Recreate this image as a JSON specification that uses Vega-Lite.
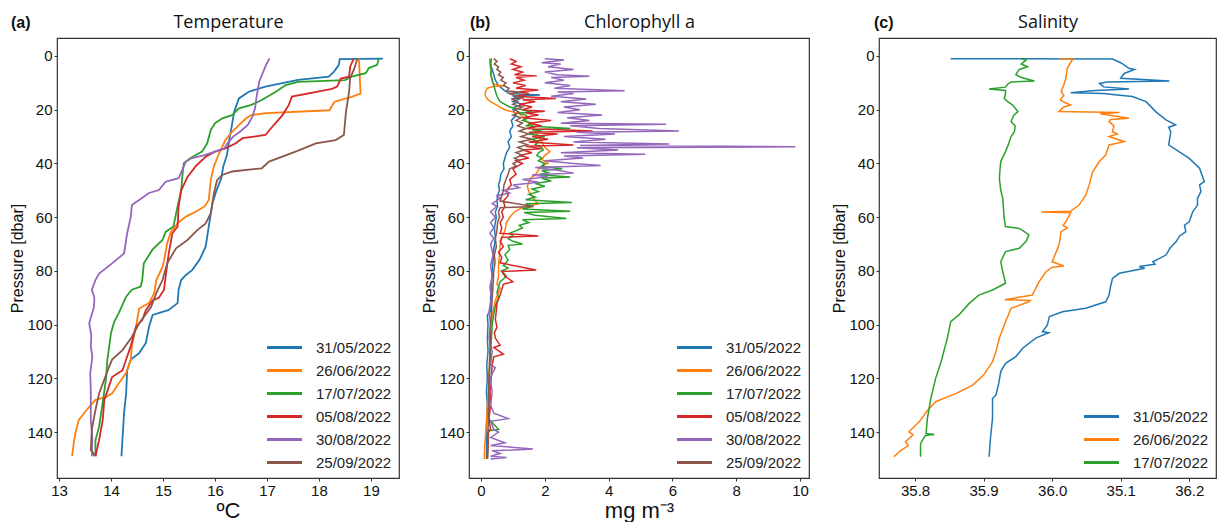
{
"$schema": "https://vega.github.io/schema/vega-lite/v6.json",
"padding": {"left": 9, "top": 12, "right": 0, "bottom": 0},
"autosize": {"type": "pad"},
"config": {
  "view": {"stroke": "#333", "strokeWidth": 1.2},
  "font": "Liberation Sans",
  "axis": {"labelFontSize": 15, "labelColor": "#111", "tickColor": "#333", "tickSize": 3, "domain": false, "grid": false, "titleFontWeight": "normal", "titleFontSize": 16, "titleColor": "#111", "labelPadding": 2},
  "title": {"fontSize": 16, "fontWeight": "bold", "anchor": "start", "frame": "group", "color": "#111", "font": "Liberation Sans"},
  "legend": {"orient": "bottom-right", "title": null, "symbolType": "M-2,0H2", "symbolSize": 306, "symbolStrokeWidth": 3, "labelFontSize": 15, "labelFont": "Liberation Sans", "labelColor": "#222", "rowPadding": 4, "labelOffset": 21, "offset": 7, "padding": 0}
},
"datasets": {
"temp": [
{"d":"31/05/2022","p":1.0,"v":19.23},{"d":"31/05/2022","p":1.2,"v":18.4},{"d":"31/05/2022","p":3.4,"v":18.38},{"d":"31/05/2022","p":5.8,"v":18.29},{"d":"31/05/2022","p":7.7,"v":18.19},{"d":"31/05/2022","p":8.9,"v":17.6},{"d":"31/05/2022","p":11.4,"v":16.97},{"d":"31/05/2022","p":13.3,"v":16.65},{"d":"31/05/2022","p":15.8,"v":16.46},{"d":"31/05/2022","p":20.7,"v":16.37},{"d":"31/05/2022","p":26.4,"v":16.32},{"d":"31/05/2022","p":30.6,"v":16.28},{"d":"31/05/2022","p":36.9,"v":16.23},{"d":"31/05/2022","p":41,"v":16.16},{"d":"31/05/2022","p":45.5,"v":16.12},{"d":"31/05/2022","p":50.5,"v":16.02},{"d":"31/05/2022","p":54.8,"v":15.95},{"d":"31/05/2022","p":63.5,"v":15.88},{"d":"31/05/2022","p":71,"v":15.82},{"d":"31/05/2022","p":76,"v":15.7},{"d":"31/05/2022","p":79.7,"v":15.56},{"d":"31/05/2022","p":81.5,"v":15.44},{"d":"31/05/2022","p":83.4,"v":15.35},{"d":"31/05/2022","p":87,"v":15.3},{"d":"31/05/2022","p":92,"v":15.28},{"d":"31/05/2022","p":94.6,"v":15.1},{"d":"31/05/2022","p":96.4,"v":14.8},{"d":"31/05/2022","p":100.8,"v":14.73},{"d":"31/05/2022","p":106.8,"v":14.67},{"d":"31/05/2022","p":110.6,"v":14.54},{"d":"31/05/2022","p":113,"v":14.38},{"d":"31/05/2022","p":117,"v":14.31},{"d":"31/05/2022","p":125.6,"v":14.29},{"d":"31/05/2022","p":133,"v":14.25},{"d":"31/05/2022","p":149,"v":14.2},
{"d":"26/06/2022","p":1,"v":18.77},{"d":"26/06/2022","p":14,"v":18.8},{"d":"26/06/2022","p":15.2,"v":18.63},{"d":"26/06/2022","p":17,"v":18.3},{"d":"26/06/2022","p":20.2,"v":18.2},{"d":"26/06/2022","p":21.3,"v":16.98},{"d":"26/06/2022","p":22,"v":16.7},{"d":"26/06/2022","p":23.2,"v":16.6},{"d":"26/06/2022","p":25.7,"v":16.46},{"d":"26/06/2022","p":28.2,"v":16.33},{"d":"26/06/2022","p":31.3,"v":16.2},{"d":"26/06/2022","p":36.2,"v":16.08},{"d":"26/06/2022","p":41,"v":15.98},{"d":"26/06/2022","p":46,"v":15.92},{"d":"26/06/2022","p":53.6,"v":15.88},{"d":"26/06/2022","p":56,"v":15.8},{"d":"26/06/2022","p":58,"v":15.63},{"d":"26/06/2022","p":59.8,"v":15.44},{"d":"26/06/2022","p":62.3,"v":15.28},{"d":"26/06/2022","p":65.5,"v":15.15},{"d":"26/06/2022","p":69.7,"v":15.08},{"d":"26/06/2022","p":76,"v":15.02},{"d":"26/06/2022","p":78.5,"v":14.99},{"d":"26/06/2022","p":83.4,"v":14.87},{"d":"26/06/2022","p":88.3,"v":14.83},{"d":"26/06/2022","p":92,"v":14.73},{"d":"26/06/2022","p":94,"v":14.54},{"d":"26/06/2022","p":100.8,"v":14.48},{"d":"26/06/2022","p":108,"v":14.4},{"d":"26/06/2022","p":113,"v":14.38},{"d":"26/06/2022","p":118,"v":14.29},{"d":"26/06/2022","p":121.8,"v":14.15},{"d":"26/06/2022","p":125.6,"v":14.02},{"d":"26/06/2022","p":127,"v":13.9},{"d":"26/06/2022","p":128,"v":13.7},{"d":"26/06/2022","p":130.6,"v":13.58},{"d":"26/06/2022","p":135.5,"v":13.38},{"d":"26/06/2022","p":139,"v":13.33},{"d":"26/06/2022","p":143,"v":13.29},{"d":"26/06/2022","p":149,"v":13.25},
{"d":"17/07/2022","p":1,"v":19.15},{"d":"17/07/2022","p":3.3,"v":19.12},{"d":"17/07/2022","p":4.5,"v":18.96},{"d":"17/07/2022","p":6.4,"v":18.9},{"d":"17/07/2022","p":7.7,"v":18.63},{"d":"17/07/2022","p":9,"v":18.5},{"d":"17/07/2022","p":9.6,"v":17.6},{"d":"17/07/2022","p":10.8,"v":17.36},{"d":"17/07/2022","p":13.3,"v":17.17},{"d":"17/07/2022","p":16.4,"v":16.9},{"d":"17/07/2022","p":18.2,"v":16.7},{"d":"17/07/2022","p":19.5,"v":16.46},{"d":"17/07/2022","p":22,"v":16.33},{"d":"17/07/2022","p":23.2,"v":16.14},{"d":"17/07/2022","p":25,"v":16.0},{"d":"17/07/2022","p":27.5,"v":15.92},{"d":"17/07/2022","p":32.5,"v":15.85},{"d":"17/07/2022","p":35.6,"v":15.75},{"d":"17/07/2022","p":38,"v":15.53},{"d":"17/07/2022","p":39.9,"v":15.4},{"d":"17/07/2022","p":45,"v":15.37},{"d":"17/07/2022","p":50,"v":15.35},{"d":"17/07/2022","p":56,"v":15.28},{"d":"17/07/2022","p":63.5,"v":15.2},{"d":"17/07/2022","p":65.5,"v":15.05},{"d":"17/07/2022","p":68.5,"v":14.99},{"d":"17/07/2022","p":72,"v":14.8},{"d":"17/07/2022","p":77.2,"v":14.63},{"d":"17/07/2022","p":83.4,"v":14.6},{"d":"17/07/2022","p":85.8,"v":14.57},{"d":"17/07/2022","p":87,"v":14.4},{"d":"17/07/2022","p":89.6,"v":14.29},{"d":"17/07/2022","p":95.6,"v":14.15},{"d":"17/07/2022","p":99,"v":14.06},{"d":"17/07/2022","p":103,"v":14.0},{"d":"17/07/2022","p":113,"v":13.93},{"d":"17/07/2022","p":120.6,"v":13.9},{"d":"17/07/2022","p":129,"v":13.84},{"d":"17/07/2022","p":138,"v":13.77},{"d":"17/07/2022","p":143,"v":13.7},{"d":"17/07/2022","p":149,"v":13.7},
{"d":"05/08/2022","p":1,"v":18.67},{"d":"05/08/2022","p":4,"v":18.6},{"d":"05/08/2022","p":7.7,"v":18.58},{"d":"05/08/2022","p":8.4,"v":18.42},{"d":"05/08/2022","p":11.4,"v":18.35},{"d":"05/08/2022","p":12.2,"v":18.25},{"d":"05/08/2022","p":15.1,"v":17.48},{"d":"05/08/2022","p":18.2,"v":17.42},{"d":"05/08/2022","p":22,"v":17.3},{"d":"05/08/2022","p":25.7,"v":17.13},{"d":"05/08/2022","p":29.4,"v":16.97},{"d":"05/08/2022","p":30.6,"v":16.53},{"d":"05/08/2022","p":32.5,"v":16.4},{"d":"05/08/2022","p":34.4,"v":16.2},{"d":"05/08/2022","p":35.6,"v":16.0},{"d":"05/08/2022","p":37.5,"v":15.82},{"d":"05/08/2022","p":41,"v":15.63},{"d":"05/08/2022","p":45,"v":15.47},{"d":"05/08/2022","p":50,"v":15.35},{"d":"05/08/2022","p":56,"v":15.3},{"d":"05/08/2022","p":63.5,"v":15.28},{"d":"05/08/2022","p":66,"v":15.18},{"d":"05/08/2022","p":73.5,"v":15.11},{"d":"05/08/2022","p":82,"v":15.05},{"d":"05/08/2022","p":87,"v":15.02},{"d":"05/08/2022","p":90,"v":14.92},{"d":"05/08/2022","p":91,"v":14.8},{"d":"05/08/2022","p":94.6,"v":14.67},{"d":"05/08/2022","p":98.3,"v":14.6},{"d":"05/08/2022","p":100.8,"v":14.48},{"d":"05/08/2022","p":108,"v":14.38},{"d":"05/08/2022","p":113,"v":14.29},{"d":"05/08/2022","p":117,"v":14.22},{"d":"05/08/2022","p":119.5,"v":14.02},{"d":"05/08/2022","p":123,"v":13.96},{"d":"05/08/2022","p":128,"v":13.87},{"d":"05/08/2022","p":135.5,"v":13.84},{"d":"05/08/2022","p":143,"v":13.77},{"d":"05/08/2022","p":149,"v":13.7},
{"d":"30/08/2022","p":0.9,"v":17.05},{"d":"30/08/2022","p":3.4,"v":16.98},{"d":"30/08/2022","p":9.6,"v":16.85},{"d":"30/08/2022","p":15.2,"v":16.8},{"d":"30/08/2022","p":19.5,"v":16.77},{"d":"30/08/2022","p":22.6,"v":16.72},{"d":"30/08/2022","p":25.7,"v":16.63},{"d":"30/08/2022","p":28.2,"v":16.48},{"d":"30/08/2022","p":30,"v":16.35},{"d":"30/08/2022","p":32.5,"v":16.24},{"d":"30/08/2022","p":34.4,"v":16.18},{"d":"30/08/2022","p":36.9,"v":15.8},{"d":"30/08/2022","p":38,"v":15.56},{"d":"30/08/2022","p":39.3,"v":15.44},{"d":"30/08/2022","p":45.5,"v":15.3},{"d":"30/08/2022","p":46.8,"v":15.05},{"d":"30/08/2022","p":49.9,"v":14.92},{"d":"30/08/2022","p":51,"v":14.73},{"d":"30/08/2022","p":53.6,"v":14.54},{"d":"30/08/2022","p":55.5,"v":14.4},{"d":"30/08/2022","p":59.8,"v":14.38},{"d":"30/08/2022","p":66,"v":14.31},{"d":"30/08/2022","p":73.5,"v":14.25},{"d":"30/08/2022","p":77.2,"v":14.02},{"d":"30/08/2022","p":81,"v":13.77},{"d":"30/08/2022","p":83.4,"v":13.7},{"d":"30/08/2022","p":87,"v":13.63},{"d":"30/08/2022","p":90,"v":13.68},{"d":"30/08/2022","p":93.5,"v":13.67},{"d":"30/08/2022","p":99.5,"v":13.58},{"d":"30/08/2022","p":104,"v":13.62},{"d":"30/08/2022","p":108,"v":13.61},{"d":"30/08/2022","p":112,"v":13.64},{"d":"30/08/2022","p":118,"v":13.6},{"d":"30/08/2022","p":125.6,"v":13.61},{"d":"30/08/2022","p":135.5,"v":13.61},{"d":"30/08/2022","p":142,"v":13.64},{"d":"30/08/2022","p":149,"v":13.63},
{"d":"25/09/2022","p":1,"v":18.74},{"d":"25/09/2022","p":5.2,"v":18.67},{"d":"25/09/2022","p":8.2,"v":18.6},{"d":"25/09/2022","p":13.3,"v":18.58},{"d":"25/09/2022","p":20.7,"v":18.52},{"d":"25/09/2022","p":29.4,"v":18.48},{"d":"25/09/2022","p":31.3,"v":18.32},{"d":"25/09/2022","p":32.5,"v":17.94},{"d":"25/09/2022","p":35.6,"v":17.55},{"d":"25/09/2022","p":39.3,"v":17.04},{"d":"25/09/2022","p":41.8,"v":16.9},{"d":"25/09/2022","p":43,"v":16.33},{"d":"25/09/2022","p":44.3,"v":16.14},{"d":"25/09/2022","p":46.2,"v":16.04},{"d":"25/09/2022","p":51,"v":15.98},{"d":"25/09/2022","p":58.5,"v":15.92},{"d":"25/09/2022","p":62.3,"v":15.82},{"d":"25/09/2022","p":64.8,"v":15.66},{"d":"25/09/2022","p":68.5,"v":15.47},{"d":"25/09/2022","p":71.6,"v":15.25},{"d":"25/09/2022","p":77.2,"v":15.08},{"d":"25/09/2022","p":83.4,"v":14.99},{"d":"25/09/2022","p":88.3,"v":14.87},{"d":"25/09/2022","p":93.5,"v":14.77},{"d":"25/09/2022","p":99.5,"v":14.54},{"d":"25/09/2022","p":104.6,"v":14.4},{"d":"25/09/2022","p":109.5,"v":14.22},{"d":"25/09/2022","p":113,"v":14.02},{"d":"25/09/2022","p":115.8,"v":13.96},{"d":"25/09/2022","p":125.6,"v":13.77},{"d":"25/09/2022","p":131.8,"v":13.7},{"d":"25/09/2022","p":139,"v":13.63},{"d":"25/09/2022","p":146.7,"v":13.61},{"d":"25/09/2022","p":148,"v":13.67},{"d":"25/09/2022","p":149,"v":13.67}
],
"chl": [
{"d":"31/05/2022","p":1,"v":0.33},{"d":"31/05/2022","p":3,"v":0.3},{"d":"31/05/2022","p":5,"v":0.35},{"d":"31/05/2022","p":7,"v":0.4},{"d":"31/05/2022","p":9,"v":0.45},{"d":"31/05/2022","p":11,"v":0.55},{"d":"31/05/2022","p":13,"v":0.75},{"d":"31/05/2022","p":14,"v":0.9},{"d":"31/05/2022","p":14.5,"v":1.85},{"d":"31/05/2022","p":15,"v":1.0},{"d":"31/05/2022","p":16,"v":1.2},{"d":"31/05/2022","p":17,"v":1.0},{"d":"31/05/2022","p":18,"v":1.3},{"d":"31/05/2022","p":19,"v":1.05},{"d":"31/05/2022","p":20,"v":1.0},{"d":"31/05/2022","p":22,"v":1.1},{"d":"31/05/2022","p":24,"v":0.95},{"d":"31/05/2022","p":26,"v":1.0},{"d":"31/05/2022","p":28,"v":0.9},{"d":"31/05/2022","p":30,"v":0.95},{"d":"31/05/2022","p":32,"v":0.85},{"d":"31/05/2022","p":34,"v":0.9},{"d":"31/05/2022","p":36,"v":0.8},{"d":"31/05/2022","p":38,"v":0.75},{"d":"31/05/2022","p":40,"v":0.7},{"d":"31/05/2022","p":42,"v":0.72},{"d":"31/05/2022","p":44,"v":0.62},{"d":"31/05/2022","p":46,"v":0.6},{"d":"31/05/2022","p":48,"v":0.55},{"d":"31/05/2022","p":50,"v":0.58},{"d":"31/05/2022","p":52,"v":0.52},{"d":"31/05/2022","p":54,"v":0.5},{"d":"31/05/2022","p":56,"v":0.52},{"d":"31/05/2022","p":58,"v":0.45},{"d":"31/05/2022","p":60,"v":0.48},{"d":"31/05/2022","p":64,"v":0.42},{"d":"31/05/2022","p":68,"v":0.45},{"d":"31/05/2022","p":72,"v":0.4},{"d":"31/05/2022","p":76,"v":0.38},{"d":"31/05/2022","p":80,"v":0.35},{"d":"31/05/2022","p":85,"v":0.33},{"d":"31/05/2022","p":90,"v":0.3},{"d":"31/05/2022","p":95,"v":0.3},{"d":"31/05/2022","p":96.4,"v":0.2},{"d":"31/05/2022","p":100,"v":0.22},{"d":"31/05/2022","p":105,"v":0.2},{"d":"31/05/2022","p":110,"v":0.22},{"d":"31/05/2022","p":115,"v":0.18},{"d":"31/05/2022","p":120,"v":0.2},{"d":"31/05/2022","p":125,"v":0.17},{"d":"31/05/2022","p":130,"v":0.2},{"d":"31/05/2022","p":135,"v":0.18},{"d":"31/05/2022","p":140,"v":0.17},{"d":"31/05/2022","p":145,"v":0.18},{"d":"31/05/2022","p":150,"v":0.17},
{"d":"26/06/2022","p":1,"v":0.3},{"d":"26/06/2022","p":3,"v":0.28},{"d":"26/06/2022","p":5,"v":0.3},{"d":"26/06/2022","p":7,"v":0.32},{"d":"26/06/2022","p":9,"v":0.35},{"d":"26/06/2022","p":10.5,"v":0.4},{"d":"26/06/2022","p":11.2,"v":0.7},{"d":"26/06/2022","p":11.4,"v":0.38},{"d":"26/06/2022","p":12,"v":0.2},{"d":"26/06/2022","p":13,"v":0.15},{"d":"26/06/2022","p":14,"v":0.13},{"d":"26/06/2022","p":15,"v":0.15},{"d":"26/06/2022","p":16,"v":0.2},{"d":"26/06/2022","p":17,"v":0.3},{"d":"26/06/2022","p":18,"v":0.45},{"d":"26/06/2022","p":19,"v":0.6},{"d":"26/06/2022","p":20,"v":0.75},{"d":"26/06/2022","p":20.7,"v":0.96},{"d":"26/06/2022","p":21.5,"v":1.2},{"d":"26/06/2022","p":22.5,"v":1.3},{"d":"26/06/2022","p":24,"v":1.4},{"d":"26/06/2022","p":26,"v":1.6},{"d":"26/06/2022","p":28,"v":1.7},{"d":"26/06/2022","p":30,"v":1.8},{"d":"26/06/2022","p":32,"v":1.9},{"d":"26/06/2022","p":34,"v":2.0},{"d":"26/06/2022","p":35.6,"v":2.16},{"d":"26/06/2022","p":37,"v":2.0},{"d":"26/06/2022","p":38.5,"v":1.9},{"d":"26/06/2022","p":39.9,"v":2.1},{"d":"26/06/2022","p":41,"v":1.9},{"d":"26/06/2022","p":42.5,"v":1.8},{"d":"26/06/2022","p":44.3,"v":1.7},{"d":"26/06/2022","p":45.5,"v":1.55},{"d":"26/06/2022","p":47,"v":1.5},{"d":"26/06/2022","p":48.5,"v":1.45},{"d":"26/06/2022","p":50.5,"v":1.5},{"d":"26/06/2022","p":52,"v":1.6},{"d":"26/06/2022","p":54,"v":1.7},{"d":"26/06/2022","p":55,"v":1.8},{"d":"26/06/2022","p":56,"v":1.4},{"d":"26/06/2022","p":57,"v":1.2},{"d":"26/06/2022","p":58,"v":1.05},{"d":"26/06/2022","p":60,"v":0.9},{"d":"26/06/2022","p":62,"v":0.8},{"d":"26/06/2022","p":65,"v":0.75},{"d":"26/06/2022","p":68,"v":0.65},{"d":"26/06/2022","p":70,"v":0.6},{"d":"26/06/2022","p":74,"v":0.58},{"d":"26/06/2022","p":78,"v":0.55},{"d":"26/06/2022","p":82,"v":0.55},{"d":"26/06/2022","p":85,"v":0.5},{"d":"26/06/2022","p":86.5,"v":0.6},{"d":"26/06/2022","p":88,"v":0.55},{"d":"26/06/2022","p":91,"v":0.45},{"d":"26/06/2022","p":95,"v":0.38},{"d":"26/06/2022","p":100,"v":0.3},{"d":"26/06/2022","p":105,"v":0.3},{"d":"26/06/2022","p":110,"v":0.28},{"d":"26/06/2022","p":120,"v":0.25},{"d":"26/06/2022","p":130,"v":0.2},{"d":"26/06/2022","p":140,"v":0.15},{"d":"26/06/2022","p":145,"v":0.12},{"d":"26/06/2022","p":150,"v":0.1},
{"d":"17/07/2022","p":1,"v":0.28},{"d":"17/07/2022","p":3,"v":0.3},{"d":"17/07/2022","p":5,"v":0.32},{"d":"17/07/2022","p":7,"v":0.3},{"d":"17/07/2022","p":9,"v":0.35},{"d":"17/07/2022","p":11,"v":0.4},{"d":"17/07/2022","p":13,"v":0.45},{"d":"17/07/2022","p":15,"v":0.5},{"d":"17/07/2022","p":17,"v":0.6},{"d":"17/07/2022","p":18,"v":0.75},{"d":"17/07/2022","p":19,"v":0.9},{"d":"17/07/2022","p":20,"v":1.3},{"d":"17/07/2022","p":20.7,"v":1.6},{"d":"17/07/2022","p":21.3,"v":1.2},{"d":"17/07/2022","p":22,"v":1.4},{"d":"17/07/2022","p":23,"v":1.5},{"d":"17/07/2022","p":24,"v":1.3},{"d":"17/07/2022","p":25,"v":1.6},{"d":"17/07/2022","p":26,"v":1.4},{"d":"17/07/2022","p":27,"v":2.8},{"d":"17/07/2022","p":27.5,"v":1.6},{"d":"17/07/2022","p":28,"v":1.9},{"d":"17/07/2022","p":29,"v":1.5},{"d":"17/07/2022","p":30,"v":2.0},{"d":"17/07/2022","p":31,"v":1.6},{"d":"17/07/2022","p":32,"v":1.8},{"d":"17/07/2022","p":33,"v":1.7},{"d":"17/07/2022","p":34,"v":1.9},{"d":"17/07/2022","p":35,"v":1.95},{"d":"17/07/2022","p":36,"v":1.8},{"d":"17/07/2022","p":37,"v":1.75},{"d":"17/07/2022","p":38,"v":1.9},{"d":"17/07/2022","p":39,"v":1.8},{"d":"17/07/2022","p":40,"v":2.0},{"d":"17/07/2022","p":41,"v":1.9},{"d":"17/07/2022","p":42,"v":2.55},{"d":"17/07/2022","p":42.6,"v":1.9},{"d":"17/07/2022","p":43.5,"v":2.1},{"d":"17/07/2022","p":44.2,"v":1.8},{"d":"17/07/2022","p":45,"v":2.8},{"d":"17/07/2022","p":45.5,"v":1.9},{"d":"17/07/2022","p":46.5,"v":2.2},{"d":"17/07/2022","p":47.5,"v":1.7},{"d":"17/07/2022","p":48.5,"v":2.0},{"d":"17/07/2022","p":49.5,"v":1.6},{"d":"17/07/2022","p":50.5,"v":1.8},{"d":"17/07/2022","p":51.5,"v":1.5},{"d":"17/07/2022","p":52.5,"v":1.7},{"d":"17/07/2022","p":53.5,"v":1.4},{"d":"17/07/2022","p":54.5,"v":2.85},{"d":"17/07/2022","p":55,"v":1.4},{"d":"17/07/2022","p":56,"v":1.6},{"d":"17/07/2022","p":57,"v":1.3},{"d":"17/07/2022","p":57.8,"v":2.8},{"d":"17/07/2022","p":58.3,"v":1.35},{"d":"17/07/2022","p":59.3,"v":1.7},{"d":"17/07/2022","p":60.5,"v":2.68},{"d":"17/07/2022","p":61,"v":1.3},{"d":"17/07/2022","p":62,"v":1.5},{"d":"17/07/2022","p":63,"v":1.2},{"d":"17/07/2022","p":64,"v":1.3},{"d":"17/07/2022","p":65,"v":1.1},{"d":"17/07/2022","p":66,"v":0.9},{"d":"17/07/2022","p":67,"v":1.0},{"d":"17/07/2022","p":68,"v":0.85},{"d":"17/07/2022","p":69,"v":1.0},{"d":"17/07/2022","p":70,"v":1.3},{"d":"17/07/2022","p":70.5,"v":0.85},{"d":"17/07/2022","p":72,"v":0.9},{"d":"17/07/2022","p":74,"v":0.75},{"d":"17/07/2022","p":76,"v":0.85},{"d":"17/07/2022","p":78,"v":0.7},{"d":"17/07/2022","p":79,"v":0.85},{"d":"17/07/2022","p":80,"v":0.65},{"d":"17/07/2022","p":82,"v":0.8},{"d":"17/07/2022","p":84,"v":0.6},{"d":"17/07/2022","p":86,"v":0.55},{"d":"17/07/2022","p":88,"v":0.5},{"d":"17/07/2022","p":90,"v":0.55},{"d":"17/07/2022","p":93,"v":0.45},{"d":"17/07/2022","p":96,"v":0.4},{"d":"17/07/2022","p":100,"v":0.35},{"d":"17/07/2022","p":105,"v":0.33},{"d":"17/07/2022","p":110,"v":0.3},{"d":"17/07/2022","p":115,"v":0.28},{"d":"17/07/2022","p":120,"v":0.26},{"d":"17/07/2022","p":125,"v":0.25},{"d":"17/07/2022","p":130,"v":0.25},{"d":"17/07/2022","p":135,"v":0.24},{"d":"17/07/2022","p":139,"v":0.55},{"d":"17/07/2022","p":139.5,"v":0.24},{"d":"17/07/2022","p":144,"v":0.22},{"d":"17/07/2022","p":150,"v":0.2},
{"d":"05/08/2022","p":1,"v":0.9},{"d":"05/08/2022","p":2,"v":1.1},{"d":"05/08/2022","p":3,"v":0.95},{"d":"05/08/2022","p":4,"v":1.25},{"d":"05/08/2022","p":5,"v":1.0},{"d":"05/08/2022","p":6,"v":1.3},{"d":"05/08/2022","p":7,"v":1.05},{"d":"05/08/2022","p":7.4,"v":1.75},{"d":"05/08/2022","p":8,"v":1.1},{"d":"05/08/2022","p":9,"v":1.35},{"d":"05/08/2022","p":10,"v":1.0},{"d":"05/08/2022","p":11,"v":1.4},{"d":"05/08/2022","p":12,"v":1.1},{"d":"05/08/2022","p":12.7,"v":1.8},{"d":"05/08/2022","p":13.3,"v":1.2},{"d":"05/08/2022","p":14,"v":1.5},{"d":"05/08/2022","p":15,"v":1.1},{"d":"05/08/2022","p":15.8,"v":2.35},{"d":"05/08/2022","p":16.3,"v":1.3},{"d":"05/08/2022","p":17,"v":1.7},{"d":"05/08/2022","p":18,"v":1.2},{"d":"05/08/2022","p":19,"v":1.6},{"d":"05/08/2022","p":20,"v":1.3},{"d":"05/08/2022","p":20.6,"v":2.0},{"d":"05/08/2022","p":21.2,"v":1.4},{"d":"05/08/2022","p":22,"v":1.8},{"d":"05/08/2022","p":23,"v":1.3},{"d":"05/08/2022","p":24,"v":2.2},{"d":"05/08/2022","p":25,"v":1.5},{"d":"05/08/2022","p":26,"v":1.9},{"d":"05/08/2022","p":27,"v":1.4},{"d":"05/08/2022","p":27.9,"v":3.5},{"d":"05/08/2022","p":28.4,"v":1.5},{"d":"05/08/2022","p":29,"v":2.4},{"d":"05/08/2022","p":30,"v":1.6},{"d":"05/08/2022","p":31,"v":2.1},{"d":"05/08/2022","p":32,"v":1.5},{"d":"05/08/2022","p":33.1,"v":2.9},{"d":"05/08/2022","p":33.6,"v":1.4},{"d":"05/08/2022","p":34.5,"v":1.9},{"d":"05/08/2022","p":35,"v":1.3},{"d":"05/08/2022","p":36,"v":1.6},{"d":"05/08/2022","p":37,"v":1.2},{"d":"05/08/2022","p":38,"v":1.5},{"d":"05/08/2022","p":39,"v":1.1},{"d":"05/08/2022","p":40,"v":1.3},{"d":"05/08/2022","p":42,"v":1.0},{"d":"05/08/2022","p":44,"v":1.1},{"d":"05/08/2022","p":46,"v":0.9},{"d":"05/08/2022","p":48,"v":0.95},{"d":"05/08/2022","p":50,"v":0.8},{"d":"05/08/2022","p":52,"v":0.85},{"d":"05/08/2022","p":54,"v":0.7},{"d":"05/08/2022","p":56,"v":0.75},{"d":"05/08/2022","p":58,"v":0.65},{"d":"05/08/2022","p":60,"v":0.7},{"d":"05/08/2022","p":62,"v":0.6},{"d":"05/08/2022","p":64,"v":0.65},{"d":"05/08/2022","p":66,"v":0.6},{"d":"05/08/2022","p":67,"v":1.8},{"d":"05/08/2022","p":67.5,"v":0.65},{"d":"05/08/2022","p":69,"v":0.6},{"d":"05/08/2022","p":71,"v":0.7},{"d":"05/08/2022","p":73,"v":0.55},{"d":"05/08/2022","p":75,"v":0.65},{"d":"05/08/2022","p":77,"v":0.6},{"d":"05/08/2022","p":79.7,"v":1.73},{"d":"05/08/2022","p":80.2,"v":0.65},{"d":"05/08/2022","p":82,"v":0.75},{"d":"05/08/2022","p":84,"v":1.0},{"d":"05/08/2022","p":85,"v":0.7},{"d":"05/08/2022","p":87,"v":0.65},{"d":"05/08/2022","p":89,"v":0.6},{"d":"05/08/2022","p":92,"v":0.5},{"d":"05/08/2022","p":95,"v":0.48},{"d":"05/08/2022","p":98,"v":0.45},{"d":"05/08/2022","p":101,"v":0.5},{"d":"05/08/2022","p":103,"v":0.42},{"d":"05/08/2022","p":105,"v":0.45},{"d":"05/08/2022","p":107.7,"v":0.6},{"d":"05/08/2022","p":108.5,"v":0.4},{"d":"05/08/2022","p":111,"v":0.7},{"d":"05/08/2022","p":112,"v":0.4},{"d":"05/08/2022","p":115,"v":0.35},{"d":"05/08/2022","p":120,"v":0.32},{"d":"05/08/2022","p":125,"v":0.28},{"d":"05/08/2022","p":130,"v":0.3},{"d":"05/08/2022","p":135,"v":0.25},{"d":"05/08/2022","p":139,"v":0.3},{"d":"05/08/2022","p":140,"v":0.22},{"d":"05/08/2022","p":145,"v":0.22},{"d":"05/08/2022","p":150,"v":0.2},
{"d":"30/08/2022","p":1,"v":2.0},{"d":"30/08/2022","p":1.5,"v":2.6},{"d":"30/08/2022","p":2.5,"v":1.9},{"d":"30/08/2022","p":3,"v":2.5},{"d":"30/08/2022","p":4,"v":2.1},{"d":"30/08/2022","p":5,"v":2.9},{"d":"30/08/2022","p":6,"v":2.0},{"d":"30/08/2022","p":7,"v":2.4},{"d":"30/08/2022","p":7.5,"v":3.4},{"d":"30/08/2022","p":8,"v":2.2},{"d":"30/08/2022","p":9,"v":2.6},{"d":"30/08/2022","p":10,"v":2.0},{"d":"30/08/2022","p":11,"v":2.8},{"d":"30/08/2022","p":12,"v":2.3},{"d":"30/08/2022","p":12.9,"v":4.5},{"d":"30/08/2022","p":13.4,"v":2.4},{"d":"30/08/2022","p":14,"v":2.9},{"d":"30/08/2022","p":15,"v":2.2},{"d":"30/08/2022","p":16,"v":3.3},{"d":"30/08/2022","p":17,"v":2.5},{"d":"30/08/2022","p":18,"v":3.6},{"d":"30/08/2022","p":19,"v":2.6},{"d":"30/08/2022","p":20,"v":3.1},{"d":"30/08/2022","p":21,"v":2.4},{"d":"30/08/2022","p":22,"v":3.8},{"d":"30/08/2022","p":23,"v":2.7},{"d":"30/08/2022","p":24,"v":3.4},{"d":"30/08/2022","p":25,"v":2.5},{"d":"30/08/2022","p":25.4,"v":5.8},{"d":"30/08/2022","p":26,"v":2.8},{"d":"30/08/2022","p":27,"v":3.7},{"d":"30/08/2022","p":27.9,"v":6.2},{"d":"30/08/2022","p":28.4,"v":3.0},{"d":"30/08/2022","p":29,"v":4.2},{"d":"30/08/2022","p":30,"v":2.6},{"d":"30/08/2022","p":31,"v":3.9},{"d":"30/08/2022","p":32,"v":2.9},{"d":"30/08/2022","p":32.8,"v":5.9},{"d":"30/08/2022","p":33.3,"v":3.1},{"d":"30/08/2022","p":33.8,"v":9.85},{"d":"30/08/2022","p":34.2,"v":3.0},{"d":"30/08/2022","p":35,"v":4.3},{"d":"30/08/2022","p":36,"v":2.5},{"d":"30/08/2022","p":36.6,"v":5.15},{"d":"30/08/2022","p":37.2,"v":2.6},{"d":"30/08/2022","p":38,"v":3.2},{"d":"30/08/2022","p":39,"v":2.0},{"d":"30/08/2022","p":40,"v":2.9},{"d":"30/08/2022","p":40.8,"v":3.75},{"d":"30/08/2022","p":41.5,"v":1.7},{"d":"30/08/2022","p":42.5,"v":2.4},{"d":"30/08/2022","p":43.6,"v":2.9},{"d":"30/08/2022","p":44.3,"v":1.6},{"d":"30/08/2022","p":45,"v":2.1},{"d":"30/08/2022","p":46,"v":1.3},{"d":"30/08/2022","p":47,"v":1.8},{"d":"30/08/2022","p":48,"v":1.0},{"d":"30/08/2022","p":49,"v":1.2},{"d":"30/08/2022","p":50,"v":0.7},{"d":"30/08/2022","p":51,"v":0.9},{"d":"30/08/2022","p":52,"v":0.5},{"d":"30/08/2022","p":53,"v":0.6},{"d":"30/08/2022","p":55,"v":0.35},{"d":"30/08/2022","p":56,"v":0.5},{"d":"30/08/2022","p":58,"v":0.3},{"d":"30/08/2022","p":60,"v":0.45},{"d":"30/08/2022","p":62,"v":0.3},{"d":"30/08/2022","p":64,"v":0.4},{"d":"30/08/2022","p":66,"v":0.28},{"d":"30/08/2022","p":68,"v":0.4},{"d":"30/08/2022","p":70,"v":0.3},{"d":"30/08/2022","p":74,"v":0.38},{"d":"30/08/2022","p":78,"v":0.3},{"d":"30/08/2022","p":82,"v":0.35},{"d":"30/08/2022","p":86,"v":0.28},{"d":"30/08/2022","p":90,"v":0.33},{"d":"30/08/2022","p":95,"v":0.25},{"d":"30/08/2022","p":100,"v":0.3},{"d":"30/08/2022","p":105,"v":0.25},{"d":"30/08/2022","p":110,"v":0.35},{"d":"30/08/2022","p":115,"v":0.3},{"d":"30/08/2022","p":116,"v":0.45},{"d":"30/08/2022","p":120,"v":0.28},{"d":"30/08/2022","p":125,"v":0.35},{"d":"30/08/2022","p":130,"v":0.3},{"d":"30/08/2022","p":133,"v":0.4},{"d":"30/08/2022","p":135,"v":0.85},{"d":"30/08/2022","p":136,"v":0.3},{"d":"30/08/2022","p":139,"v":0.4},{"d":"30/08/2022","p":140,"v":0.55},{"d":"30/08/2022","p":142,"v":0.3},{"d":"30/08/2022","p":144,"v":0.75},{"d":"30/08/2022","p":145,"v":0.3},{"d":"30/08/2022","p":146.3,"v":1.63},{"d":"30/08/2022","p":147,"v":0.35},{"d":"30/08/2022","p":148,"v":0.6},{"d":"30/08/2022","p":149,"v":0.3},{"d":"30/08/2022","p":149.5,"v":0.8},{"d":"30/08/2022","p":150,"v":0.3},
{"d":"25/09/2022","p":1,"v":0.4},{"d":"25/09/2022","p":2,"v":0.5},{"d":"25/09/2022","p":3,"v":0.42},{"d":"25/09/2022","p":4,"v":0.55},{"d":"25/09/2022","p":5,"v":0.5},{"d":"25/09/2022","p":6,"v":0.62},{"d":"25/09/2022","p":7,"v":0.55},{"d":"25/09/2022","p":8,"v":0.7},{"d":"25/09/2022","p":9,"v":0.62},{"d":"25/09/2022","p":10,"v":0.78},{"d":"25/09/2022","p":11,"v":0.7},{"d":"25/09/2022","p":12,"v":0.88},{"d":"25/09/2022","p":13,"v":0.8},{"d":"25/09/2022","p":13.5,"v":1.25},{"d":"25/09/2022","p":14,"v":0.9},{"d":"25/09/2022","p":15,"v":1.1},{"d":"25/09/2022","p":15.5,"v":1.35},{"d":"25/09/2022","p":16,"v":0.95},{"d":"25/09/2022","p":17,"v":1.15},{"d":"25/09/2022","p":18,"v":1.0},{"d":"25/09/2022","p":19,"v":1.3},{"d":"25/09/2022","p":20,"v":1.05},{"d":"25/09/2022","p":21,"v":1.2},{"d":"25/09/2022","p":22,"v":1.0},{"d":"25/09/2022","p":23,"v":1.25},{"d":"25/09/2022","p":24,"v":1.1},{"d":"25/09/2022","p":25,"v":1.3},{"d":"25/09/2022","p":26,"v":1.15},{"d":"25/09/2022","p":27,"v":1.4},{"d":"25/09/2022","p":28,"v":1.2},{"d":"25/09/2022","p":29,"v":1.5},{"d":"25/09/2022","p":30,"v":1.25},{"d":"25/09/2022","p":31,"v":1.6},{"d":"25/09/2022","p":32,"v":1.2},{"d":"25/09/2022","p":33,"v":1.45},{"d":"25/09/2022","p":34,"v":1.15},{"d":"25/09/2022","p":35,"v":1.35},{"d":"25/09/2022","p":36,"v":1.1},{"d":"25/09/2022","p":37,"v":1.3},{"d":"25/09/2022","p":38,"v":1.05},{"d":"25/09/2022","p":39,"v":1.2},{"d":"25/09/2022","p":40,"v":1.0},{"d":"25/09/2022","p":41,"v":1.1},{"d":"25/09/2022","p":42,"v":0.9},{"d":"25/09/2022","p":44,"v":0.85},{"d":"25/09/2022","p":46,"v":0.78},{"d":"25/09/2022","p":48,"v":0.72},{"d":"25/09/2022","p":50,"v":0.7},{"d":"25/09/2022","p":52,"v":0.65},{"d":"25/09/2022","p":54,"v":0.6},{"d":"25/09/2022","p":56,"v":1.65},{"d":"25/09/2022","p":56.5,"v":0.6},{"d":"25/09/2022","p":58,"v":0.55},{"d":"25/09/2022","p":60,"v":0.58},{"d":"25/09/2022","p":62,"v":0.52},{"d":"25/09/2022","p":65,"v":0.5},{"d":"25/09/2022","p":68,"v":0.45},{"d":"25/09/2022","p":71,"v":0.48},{"d":"25/09/2022","p":74,"v":0.42},{"d":"25/09/2022","p":77,"v":0.44},{"d":"25/09/2022","p":80,"v":0.4},{"d":"25/09/2022","p":85,"v":0.38},{"d":"25/09/2022","p":90,"v":0.35},{"d":"25/09/2022","p":95,"v":0.33},{"d":"25/09/2022","p":100,"v":0.3},{"d":"25/09/2022","p":110,"v":0.28},{"d":"25/09/2022","p":120,"v":0.25},{"d":"25/09/2022","p":130,"v":0.24},{"d":"25/09/2022","p":140,"v":0.22},{"d":"25/09/2022","p":150,"v":0.2}
],
"sal": [
{"d":"31/05/2022","p":1.0,"v":35.852},{"d":"31/05/2022","p":1.1,"v":36.088},{"d":"31/05/2022","p":2.5,"v":36.1},{"d":"31/05/2022","p":4.6,"v":36.112},{"d":"31/05/2022","p":5.0,"v":36.12},{"d":"31/05/2022","p":6.5,"v":36.105},{"d":"31/05/2022","p":8.3,"v":36.1},{"d":"31/05/2022","p":9.3,"v":36.171},{"d":"31/05/2022","p":9.7,"v":36.08},{"d":"31/05/2022","p":10.2,"v":36.069},{"d":"31/05/2022","p":11.5,"v":36.075},{"d":"31/05/2022","p":12.3,"v":36.112},{"d":"31/05/2022","p":12.8,"v":36.063},{"d":"31/05/2022","p":13.7,"v":36.027},{"d":"31/05/2022","p":14.0,"v":36.075},{"d":"31/05/2022","p":14.3,"v":36.088},{"d":"31/05/2022","p":15.1,"v":36.117},{"d":"31/05/2022","p":17,"v":36.137},{"d":"31/05/2022","p":20.7,"v":36.151},{"d":"31/05/2022","p":23.8,"v":36.166},{"d":"31/05/2022","p":25.6,"v":36.18},{"d":"31/05/2022","p":26.5,"v":36.17},{"d":"31/05/2022","p":28.2,"v":36.173},{"d":"31/05/2022","p":33.1,"v":36.17},{"d":"31/05/2022","p":35.6,"v":36.185},{"d":"31/05/2022","p":38.1,"v":36.2},{"d":"31/05/2022","p":41.8,"v":36.215},{"d":"31/05/2022","p":46.8,"v":36.222},{"d":"31/05/2022","p":48,"v":36.215},{"d":"31/05/2022","p":50.5,"v":36.217},{"d":"31/05/2022","p":53,"v":36.212},{"d":"31/05/2022","p":55.5,"v":36.212},{"d":"31/05/2022","p":58,"v":36.205},{"d":"31/05/2022","p":61.7,"v":36.2},{"d":"31/05/2022","p":63,"v":36.193},{"d":"31/05/2022","p":65.4,"v":36.195},{"d":"31/05/2022","p":67,"v":36.186},{"d":"31/05/2022","p":69.1,"v":36.181},{"d":"31/05/2022","p":71.5,"v":36.172},{"d":"31/05/2022","p":74.1,"v":36.166},{"d":"31/05/2022","p":76.6,"v":36.147},{"d":"31/05/2022","p":77.5,"v":36.15},{"d":"31/05/2022","p":78.4,"v":36.127},{"d":"31/05/2022","p":79,"v":36.135},{"d":"31/05/2022","p":80.9,"v":36.098},{"d":"31/05/2022","p":82.8,"v":36.088},{"d":"31/05/2022","p":86,"v":36.085},{"d":"31/05/2022","p":89,"v":36.083},{"d":"31/05/2022","p":91.5,"v":36.078},{"d":"31/05/2022","p":93.9,"v":36.049},{"d":"31/05/2022","p":95.2,"v":36.015},{"d":"31/05/2022","p":97,"v":35.996},{"d":"31/05/2022","p":100.1,"v":35.993},{"d":"31/05/2022","p":102.6,"v":35.986},{"d":"31/05/2022","p":103,"v":35.995},{"d":"31/05/2022","p":105,"v":35.976},{"d":"31/05/2022","p":108.8,"v":35.957},{"d":"31/05/2022","p":111.9,"v":35.947},{"d":"31/05/2022","p":114.4,"v":35.932},{"d":"31/05/2022","p":117.5,"v":35.925},{"d":"31/05/2022","p":122,"v":35.922},{"d":"31/05/2022","p":126.2,"v":35.918},{"d":"31/05/2022","p":127.5,"v":35.913},{"d":"31/05/2022","p":134.9,"v":35.913},{"d":"31/05/2022","p":142.3,"v":35.91},{"d":"31/05/2022","p":149.2,"v":35.908},
{"d":"26/06/2022","p":1.0,"v":36.01},{"d":"26/06/2022","p":1.1,"v":36.03},{"d":"26/06/2022","p":4.6,"v":36.022},{"d":"26/06/2022","p":8.3,"v":36.02},{"d":"26/06/2022","p":10.8,"v":36.017},{"d":"26/06/2022","p":13.3,"v":36.013},{"d":"26/06/2022","p":14.5,"v":36.017},{"d":"26/06/2022","p":16.4,"v":36.012},{"d":"26/06/2022","p":17.5,"v":36.02},{"d":"26/06/2022","p":18.2,"v":36.027},{"d":"26/06/2022","p":19,"v":36.017},{"d":"26/06/2022","p":20.7,"v":36.01},{"d":"26/06/2022","p":21.0,"v":36.098},{"d":"26/06/2022","p":21.5,"v":36.07},{"d":"26/06/2022","p":23.2,"v":36.112},{"d":"26/06/2022","p":23.6,"v":36.085},{"d":"26/06/2022","p":24.4,"v":36.083},{"d":"26/06/2022","p":26,"v":36.09},{"d":"26/06/2022","p":28.2,"v":36.088},{"d":"26/06/2022","p":29,"v":36.095},{"d":"26/06/2022","p":30,"v":36.083},{"d":"26/06/2022","p":31.9,"v":36.105},{"d":"26/06/2022","p":33.1,"v":36.083},{"d":"26/06/2022","p":36.9,"v":36.078},{"d":"26/06/2022","p":39.3,"v":36.069},{"d":"26/06/2022","p":43.1,"v":36.059},{"d":"26/06/2022","p":48,"v":36.054},{"d":"26/06/2022","p":51.8,"v":36.049},{"d":"26/06/2022","p":55.5,"v":36.039},{"d":"26/06/2022","p":57.8,"v":36.027},{"d":"26/06/2022","p":58.1,"v":35.984},{"d":"26/06/2022","p":58.4,"v":36.027},{"d":"26/06/2022","p":61.7,"v":36.02},{"d":"26/06/2022","p":63,"v":36.016},{"d":"26/06/2022","p":64,"v":36.022},{"d":"26/06/2022","p":65.4,"v":36.013},{"d":"26/06/2022","p":70.4,"v":36.01},{"d":"26/06/2022","p":76.6,"v":36.0},{"d":"26/06/2022","p":78.2,"v":36.017},{"d":"26/06/2022","p":78.6,"v":36.0},{"d":"26/06/2022","p":80.3,"v":35.991},{"d":"26/06/2022","p":84,"v":35.981},{"d":"26/06/2022","p":89,"v":35.971},{"d":"26/06/2022","p":90.7,"v":35.931},{"d":"26/06/2022","p":91.0,"v":35.968},{"d":"26/06/2022","p":91.5,"v":35.966},{"d":"26/06/2022","p":93.9,"v":35.94},{"d":"26/06/2022","p":98.9,"v":35.932},{"d":"26/06/2022","p":105,"v":35.923},{"d":"26/06/2022","p":110,"v":35.918},{"d":"26/06/2022","p":113.8,"v":35.913},{"d":"26/06/2022","p":118.8,"v":35.9},{"d":"26/06/2022","p":122.5,"v":35.884},{"d":"26/06/2022","p":125.6,"v":35.86},{"d":"26/06/2022","p":128.7,"v":35.83},{"d":"26/06/2022","p":132,"v":35.818},{"d":"26/06/2022","p":136.2,"v":35.806},{"d":"26/06/2022","p":139.9,"v":35.791},{"d":"26/06/2022","p":141,"v":35.797},{"d":"26/06/2022","p":143.6,"v":35.786},{"d":"26/06/2022","p":145,"v":35.79},{"d":"26/06/2022","p":147.3,"v":35.777},{"d":"26/06/2022","p":149.2,"v":35.769},
{"d":"17/07/2022","p":1.0,"v":35.955},{"d":"17/07/2022","p":1.5,"v":35.962},{"d":"17/07/2022","p":3,"v":35.955},{"d":"17/07/2022","p":4,"v":35.964},{"d":"17/07/2022","p":5,"v":35.952},{"d":"17/07/2022","p":7,"v":35.947},{"d":"17/07/2022","p":8,"v":35.955},{"d":"17/07/2022","p":9.3,"v":35.974},{"d":"17/07/2022","p":9.7,"v":35.94},{"d":"17/07/2022","p":10.5,"v":35.935},{"d":"17/07/2022","p":11.6,"v":35.932},{"d":"17/07/2022","p":12.3,"v":35.908},{"d":"17/07/2022","p":12.8,"v":35.932},{"d":"17/07/2022","p":14,"v":35.932},{"d":"17/07/2022","p":15.8,"v":35.93},{"d":"17/07/2022","p":17,"v":35.935},{"d":"17/07/2022","p":18.2,"v":35.942},{"d":"17/07/2022","p":20.7,"v":35.95},{"d":"17/07/2022","p":22,"v":35.944},{"d":"17/07/2022","p":24.4,"v":35.94},{"d":"17/07/2022","p":26,"v":35.946},{"d":"17/07/2022","p":28.2,"v":35.945},{"d":"17/07/2022","p":30,"v":35.94},{"d":"17/07/2022","p":33,"v":35.936},{"d":"17/07/2022","p":35.6,"v":35.932},{"d":"17/07/2022","p":39.3,"v":35.925},{"d":"17/07/2022","p":42,"v":35.924},{"d":"17/07/2022","p":45.5,"v":35.923},{"d":"17/07/2022","p":50,"v":35.925},{"d":"17/07/2022","p":53,"v":35.928},{"d":"17/07/2022","p":57,"v":35.929},{"d":"17/07/2022","p":60.4,"v":35.93},{"d":"17/07/2022","p":63.5,"v":35.932},{"d":"17/07/2022","p":64.2,"v":35.952},{"d":"17/07/2022","p":65.5,"v":35.96},{"d":"17/07/2022","p":66.6,"v":35.966},{"d":"17/07/2022","p":69,"v":35.962},{"d":"17/07/2022","p":71.6,"v":35.952},{"d":"17/07/2022","p":72.8,"v":35.932},{"d":"17/07/2022","p":76.6,"v":35.925},{"d":"17/07/2022","p":80.3,"v":35.928},{"d":"17/07/2022","p":84.6,"v":35.932},{"d":"17/07/2022","p":87.1,"v":35.913},{"d":"17/07/2022","p":89,"v":35.893},{"d":"17/07/2022","p":92.1,"v":35.879},{"d":"17/07/2022","p":96.4,"v":35.864},{"d":"17/07/2022","p":98.9,"v":35.852},{"d":"17/07/2022","p":105.1,"v":35.847},{"d":"17/07/2022","p":113.8,"v":35.838},{"d":"17/07/2022","p":120,"v":35.83},{"d":"17/07/2022","p":127.5,"v":35.823},{"d":"17/07/2022","p":134.9,"v":35.818},{"d":"17/07/2022","p":140.5,"v":35.816},{"d":"17/07/2022","p":140.9,"v":35.828},{"d":"17/07/2022","p":141.3,"v":35.815},{"d":"17/07/2022","p":144.2,"v":35.808},{"d":"17/07/2022","p":149.2,"v":35.808}
]
},
"bounds": "flush",
"spacing": 70,
"resolve": {"scale": {"x": "independent", "y": "independent", "color": "independent"}, "legend": {"color": "independent"}},
"hconcat": [
{
 "width": 342, "height": 440,
 "title": {"text": "(a)", "dx": -46, "offset": -18},
 "data": {"name": "temp"},
 "resolve": {"scale": {"x": "independent"}},
 "layer": [
  {"mark": {"type": "line", "strokeWidth": 1.8, "clip": true},
   "encoding": {
    "x": {"field": "v", "type": "quantitative", "scale": {"domain": [12.96, 19.54], "nice": false, "zero": false}, "axis": {"orient": "bottom", "values": [13,14,15,16,17,18,19], "title": "ºC", "titleFontSize": 22, "titlePadding": 2}},
    "y": {"field": "p", "type": "quantitative", "scale": {"domain": [-6.7, 157.1], "reverse": true, "nice": false, "zero": false}, "axis": {"values": [0,20,40,60,80,100,120,140], "title": "Pressure [dbar]", "titlePadding": 1}},
    "color": {"field": "d", "type": "nominal", "scale": {"domain": ["31/05/2022","26/06/2022","17/07/2022","05/08/2022","30/08/2022","25/09/2022"], "range": ["#1f77b4","#ff7f0e","#2ca02c","#d62728","#9467bd","#8c564b"]}},
    "order": {"field": "p", "type": "quantitative"}
   }},
  {"mark": {"type": "rule", "opacity": 0},
   "encoding": {"x": {"field": "v", "type": "quantitative", "aggregate": "min", "scale": {"domain": [12.96, 19.54], "nice": false, "zero": false}, "axis": {"orient": "top", "labels": false, "ticks": false, "domain": false, "title": "Temperature", "titleFontSize": 18, "titleFont": "Open Sans", "titlePadding": 7}}}}
 ]
},
{
 "width": 340, "height": 440,
 "title": {"text": "(b)", "dx": 1, "offset": -18},
 "data": {"name": "chl"},
 "resolve": {"scale": {"x": "independent"}},
 "layer": [
  {"mark": {"type": "line", "strokeWidth": 1.5, "clip": true},
   "encoding": {
    "x": {"field": "v", "type": "quantitative", "scale": {"domain": [-0.376, 10.28], "nice": false, "zero": false}, "axis": {"orient": "bottom", "values": [0,2,4,6,8,10], "title": "mg m⁻³", "titleFontSize": 22, "titlePadding": 2}},
    "y": {"field": "p", "type": "quantitative", "scale": {"domain": [-6.7, 157.1], "reverse": true, "nice": false, "zero": false}, "axis": {"values": [0,20,40,60,80,100,120,140], "title": "Pressure [dbar]", "titlePadding": 1}},
    "color": {"field": "d", "type": "nominal", "scale": {"domain": ["31/05/2022","26/06/2022","17/07/2022","05/08/2022","30/08/2022","25/09/2022"], "range": ["#1f77b4","#ff7f0e","#2ca02c","#d62728","#9467bd","#8c564b"]}},
    "order": {"field": "p", "type": "quantitative"}
   }},
  {"mark": {"type": "rule", "opacity": 0},
   "encoding": {"x": {"field": "v", "type": "quantitative", "aggregate": "min", "scale": {"domain": [-0.376, 10.28], "nice": false, "zero": false}, "axis": {"orient": "top", "labels": false, "ticks": false, "domain": false, "title": "Chlorophyll a", "titleFontSize": 18, "titleFont": "Open Sans", "titlePadding": 7}}}}
 ]
},
{
 "width": 337, "height": 440,
 "title": {"text": "(c)", "dx": -5, "offset": -18},
 "data": {"name": "sal"},
 "resolve": {"scale": {"x": "independent"}},
 "layer": [
  {"mark": {"type": "line", "strokeWidth": 1.5, "clip": true},
   "encoding": {
    "x": {"field": "v", "type": "quantitative", "scale": {"domain": [35.7474, 36.239], "nice": false, "zero": false}, "axis": {"orient": "bottom", "values": [35.8,35.9,36.0,36.1,36.2], "labelExpr": "datum.value > 36.05 && datum.value < 36.15 ? '35.1' : format(datum.value, '.1f')", "title": null}},
    "y": {"field": "p", "type": "quantitative", "scale": {"domain": [-6.7, 157.1], "reverse": true, "nice": false, "zero": false}, "axis": {"values": [0,20,40,60,80,100,120,140], "title": "Pressure [dbar]", "titlePadding": 1}},
    "color": {"field": "d", "type": "nominal", "scale": {"domain": ["31/05/2022","26/06/2022","17/07/2022"], "range": ["#1f77b4","#ff7f0e","#2ca02c"]}},
    "order": {"field": "p", "type": "quantitative"}
   }},
  {"mark": {"type": "rule", "opacity": 0},
   "encoding": {"x": {"field": "v", "type": "quantitative", "aggregate": "min", "scale": {"domain": [35.7474, 36.239], "nice": false, "zero": false}, "axis": {"orient": "top", "labels": false, "ticks": false, "domain": false, "title": "Salinity", "titleFontSize": 18, "titleFont": "Open Sans", "titlePadding": 7}}}}
 ]
}
]
}
